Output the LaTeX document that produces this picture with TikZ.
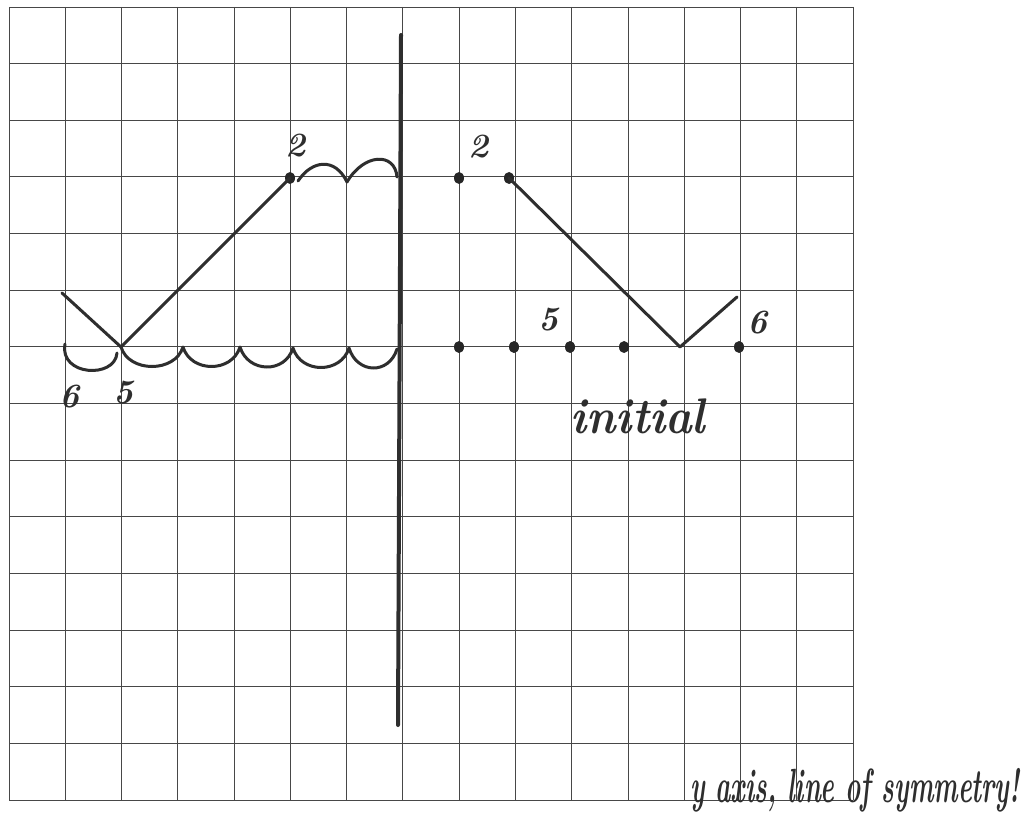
\documentclass[tikz,border=0pt]{standalone}
\usepackage{fontspec}
\usetikzlibrary{shapes.geometric}
\begin{document}
\begin{tikzpicture}[x=1pt,y=-1pt,
  gridline/.style={line width=0.9pt, draw=black!72},
  ink/.style={line width=3pt, draw=black!82, line cap=round, line join=round},
  dotnode/.style={ellipse, fill=black!85, inner sep=0pt, minimum width=10pt, minimum height=12pt},
  num/.style={font=\fontsize{34}{34}\selectfont\bfseries\itshape, text=black!82, inner sep=0pt},
  words/.style={text=black!82, inner sep=0pt},
]
\useasboundingbox (0,0) rectangle (1035,829);
\fill[white] (0,0) rectangle (1035,829);
% grid
\foreach \i in {0,...,15} \draw[gridline] ({9+56.27*\i},7) -- ({9+56.27*\i},800);
\foreach \j in {0,...,14} \draw[gridline] (9,{7+56.64*\j}) -- (853,{7+56.64*\j});
% y axis
\coordinate (axtop) at (401,35);
\coordinate (axbot) at (398,725);
\draw[ink, line width=4pt] (axtop) -- (axbot);
% left (reflected) figure
\coordinate (ls) at (62,293);
\coordinate (lv) at (121,347);
\node[dotnode] (ld2) at (290,178) {};
\draw[ink] (ls) -- (lv) -- (ld2.center);
\coordinate (a0) at (298,181);
\coordinate (a1) at (347,182);
\coordinate (a2) at (397,177);
\draw[ink] (a0) .. controls (312,160) and (335,157) .. (a1) .. controls (364,153) and (395,152) .. (a2);
% scallops below
\coordinate (s0) at (65,344);
\coordinate (s0e) at (117,353);
\coordinate (s1) at (121,347);
\coordinate (s2) at (183,347);
\coordinate (s3) at (240,347);
\coordinate (s4) at (293,348);
\coordinate (s5) at (349,348);
\coordinate (s6) at (397,349);
\draw[ink] (s0) .. controls +(-6,32) and +(-2,26) .. (s0e);
\draw[ink] (s1) .. controls +(8,26) and +(-8,26) .. (s2)
               .. controls +(8,26) and +(-8,26) .. (s3)
               .. controls +(8,26) and +(-8,26) .. (s4)
               .. controls +(8,26) and +(-8,26) .. (s5)
               .. controls +(8,26) and +(-8,26) .. (s6);
\node[num] (l6) at (70,397) {6};
\node[num] (l5) at (124,393) {5};
\node[num] (l2) at (296,146) {2};
% right (initial) figure
\node[dotnode] (r2a) at (459,178) {};
\node[dotnode] (r2b) at (509,178) {};
\node[dotnode] (r5a) at (459,347) {};
\node[dotnode] (r5b) at (514,347) {};
\node[dotnode] (r5c) at (570,347) {};
\node[dotnode] (r5d) at (624,347) {};
\node[dotnode] (r6) at (739,347) {};
\coordinate (rv) at (680,347);
\coordinate (re) at (737,297);
\draw[ink] (r2b.center) -- (rv) -- (re);
\node[num] (rl2) at (479,147) {2};
\node[num] (rl5) at (549,320) {5};
\node[num] (rl6) at (758,323) {6};
% texts
\node[words, font=\fontsize{50}{50}\selectfont\bfseries\itshape] (init) at (638,416) {\scalebox{0.9}[1]{initial}};
\node[words, anchor=base west, font=\fontsize{48}{48}\selectfont\bfseries\itshape] (caption) at (690,802) {\scalebox{0.54}[1]{y axis, line of symmetry!}};
\end{tikzpicture}
\end{document}
